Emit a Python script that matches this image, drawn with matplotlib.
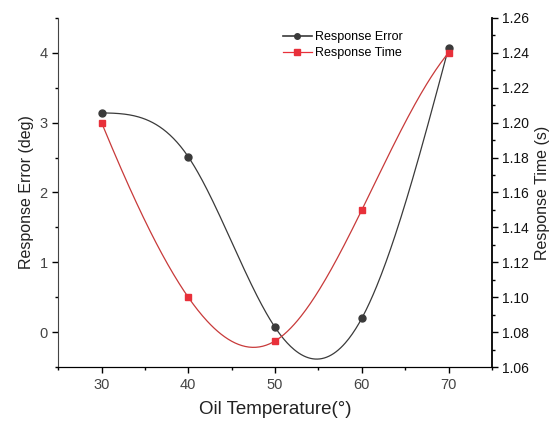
import numpy as np
import matplotlib.pyplot as plt
import matplotlib as mpl
from matplotlib.ticker import MultipleLocator

mpl.rcParams["font.family"] = ["Liberation Sans", "DejaVu Sans"]

temps = [30, 40, 50, 60, 70]
resp_error = [3.14, 2.51, 0.07, 0.20, 4.07]
resp_time = [1.200, 1.100, 1.075, 1.150, 1.240]


def spline(x, y, end="natural", n=300):
	# cubic spline, solved as one linear system
	x = np.asarray(x, float)
	y = np.asarray(y, float)
	m = len(x) - 1
	A = np.zeros((4 * m, 4 * m))
	b = np.zeros(4 * m)
	r = 0
	for i in range(m):
		h = x[i + 1] - x[i]
		A[r, 4 * i] = 1; b[r] = y[i]; r += 1
		A[r, 4 * i:4 * i + 4] = [1, h, h**2, h**3]; b[r] = y[i + 1]; r += 1
	for i in range(m - 1):
		h = x[i + 1] - x[i]
		A[r, 4 * i:4 * i + 4] = [0, 1, 2 * h, 3 * h**2]; A[r, 4 * (i + 1) + 1] = -1; r += 1
		A[r, 4 * i:4 * i + 4] = [0, 0, 2, 6 * h]; A[r, 4 * (i + 1) + 2] = -2; r += 1
	if end == "natural":
		h = x[-1] - x[-2]
		A[r, 2] = 1; r += 1
		A[r, 4 * (m - 1):4 * m] = [0, 0, 2, 6 * h]; r += 1
	else:
		A[r, 3] = 1; A[r, 7] = -1; r += 1
		A[r, 4 * (m - 2) + 3] = 1; A[r, 4 * (m - 1) + 3] = -1; r += 1
	c = np.linalg.solve(A, b).reshape(m, 4)
	xs = np.linspace(x[0], x[-1], n)
	idx = np.clip(np.searchsorted(x, xs, side="right") - 1, 0, m - 1)
	d = xs - x[idx]
	ys = c[idx, 0] + c[idx, 1] * d + c[idx, 2] * d**2 + c[idx, 3] * d**3
	return xs, ys


fig, ax = plt.subplots(figsize=(5.54, 4.24), dpi=100)
fig.subplots_adjust(left=0.105, right=0.888, bottom=0.134, top=0.958)
ax2 = ax.twinx()

black = "#3a3a3a"
red = "#e8303a"

xs, ys = spline(temps, resp_error, "natural")
ax.plot(xs, ys, color=black, lw=0.9)
ax.plot(temps, resp_error, "o", color=black, ms=5)
xs, ys = spline(temps, resp_time, "notaknot")
ax2.plot(xs, ys, color="#c83a3a", lw=0.9)
ax2.plot(temps, resp_time, "s", color=red, ms=5)

# legend proxies
h1, = ax.plot([], [], "-o", color=black, lw=1.2, ms=4)
h2, = ax.plot([], [], "-s", color=red, lw=0.9, ms=4)
ax.legend([h1, h2], ["Response Error", "Response Time"], loc="upper left",
	bbox_to_anchor=(0.495, 0.99), frameon=False, fontsize=9, handlelength=2.3,
	handletextpad=0.3, labelspacing=0.3, borderpad=0.3)

ax.set_xlim(25, 75)
ax.set_ylim(-0.5, 4.5)
ax2.set_ylim(1.06, 1.26)
ax.xaxis.set_major_locator(MultipleLocator(10))
ax.xaxis.set_minor_locator(MultipleLocator(5))
ax.yaxis.set_major_locator(MultipleLocator(1))
ax.yaxis.set_minor_locator(MultipleLocator(0.5))
ax2.yaxis.set_major_locator(MultipleLocator(0.02))
ax2.yaxis.set_minor_locator(MultipleLocator(0.01))
ax2.yaxis.set_major_formatter(mpl.ticker.FormatStrFormatter("%.2f"))

for a in (ax, ax2):
	a.spines["top"].set_visible(False)
	a.tick_params(which="major", length=4, width=1, labelsize=10.5)
	a.tick_params(which="minor", length=2.5, width=1)
ax.tick_params(axis="both", labelcolor="#444444")
ax2.tick_params(axis="y", labelcolor="#111111", labelsize=10)
ax.spines["right"].set_visible(False)
ax2.spines["left"].set_visible(False)
ax2.spines["right"].set_linewidth(1.3)
ax.spines["left"].set_color("#444444")

ax.set_xlabel("Oil Temperature(°)", fontsize=13.5, labelpad=7, color="#222222")
ax.set_ylabel("Response Error (deg)", fontsize=11.5, color="#222222")
ax2.set_ylabel("Response Time (s)", fontsize=11.5, color="#222222")

fig.savefig("out.png", dpi=100)
